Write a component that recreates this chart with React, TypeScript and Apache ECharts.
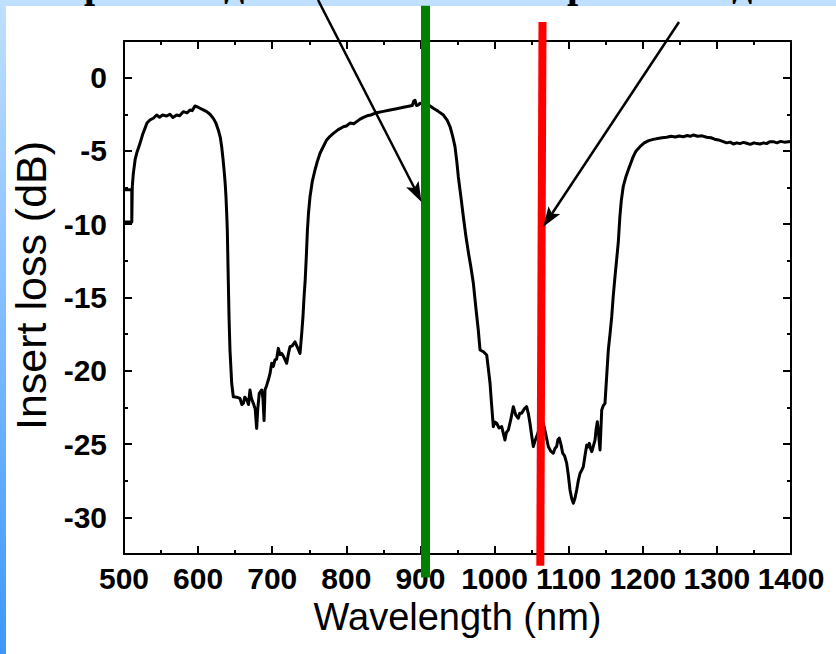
import React, { useEffect, useRef } from "react";
import * as echarts from "echarts";

// ---------- data ----------
const wavelength = [
  501, 510.5, 510.5, 501, 510.5, 511.2, 512.6, 515, 517.1, 521.6, 525, 528.3, 531, 535, 540, 544, 548, 552, 557.6, 562,
  566, 571, 575, 580, 585, 589, 592, 595.8, 599, 602.5, 607, 611.6, 616, 620.5, 624, 627.2, 630, 631.8, 633.5, 635,
  636.5, 637.6, 638.6, 639.4, 640.7, 641.8, 643, 645.3, 647.5, 652, 656.5, 659, 661, 663, 665.6, 668, 670, 672, 674.5, 677,
  679, 680.5, 682.5, 685.8, 687.5, 689, 690.3, 692.5, 694.7, 697, 699.3, 701.5, 703.7, 706, 708.2, 710.5, 712.7, 716, 719.5, 722,
  724, 727, 730.7, 734, 737.5, 739.8, 741.5, 742.9, 744.5, 746, 747.5, 749, 751, 754, 757.7, 761, 764.5, 769, 773.5, 778,
  782.5, 789, 796, 800, 805, 810, 814, 818, 823, 828, 833, 841, 850, 859, 868, 877, 884, 889, 891, 892.7,
  894.5, 897.2, 899.4, 903, 908, 912, 917.4, 924, 931, 936, 940, 943.5, 946.6, 949, 951.1, 954.5, 957.9, 961, 964.6, 968,
  971.4, 975, 978, 980.4, 985, 989.4, 991.5, 993.9, 996, 998.3, 1000.5, 1002.9, 1006, 1009.6, 1012, 1014, 1016, 1018.6, 1022, 1025.3,
  1028.5, 1032, 1034, 1036.6, 1040, 1043.3, 1045.5, 1047.8, 1050, 1052.3, 1054.5, 1056.8, 1060, 1063, 1065.8, 1069, 1072.5, 1076, 1079.3, 1081.5,
  1083.8, 1085.5, 1087.3, 1089.5, 1091.9, 1094.5, 1097.3, 1099.5, 1101.8, 1104, 1106.3, 1108.5, 1110.8, 1113, 1115.4, 1117.5, 1119.8, 1122, 1124.4, 1126,
  1127.9, 1129.5, 1131.2, 1133.5, 1135.6, 1137, 1138.7, 1140.5, 1142.3, 1143.5, 1144.6, 1146.5, 1149, 1151, 1153.5, 1156, 1158.1, 1160, 1162.5, 1164.7,
  1167, 1169.1, 1171, 1173.6, 1177, 1180.4, 1184, 1187.1, 1191, 1196.2, 1202, 1208, 1214.2, 1220, 1226, 1232.2, 1238, 1244, 1249, 1254.7,
  1260, 1264, 1268.3, 1274, 1280, 1286.2, 1292, 1297, 1302, 1308.7, 1313, 1318, 1322.2, 1327, 1331, 1336, 1340.2, 1345, 1350, 1354,
  1358.2, 1363, 1367, 1371, 1376.2, 1381, 1386, 1391, 1396.4, 1400,
];
const insertLoss = [
  -7.65, -7.65, -9.85, -9.85, -9.85, -7.44, -6.53, -5.6, -5.16, -4.48, -3.9, -3.46, -3.1, -2.89, -2.75, -2.55, -2.7, -2.55, -2.62, -2.5,
  -2.72, -2.55, -2.6, -2.32, -2.4, -2.21, -2.25, -1.93, -2.0, -2.09, -2.2, -2.32, -2.5, -2.78, -3.1, -3.57, -4.1, -4.71, -5.5, -6.3,
  -7.2, -8.12, -9.3, -10.4, -13.8, -16.5, -18.58, -20.85, -21.77, -21.8, -21.88, -22.3, -22.22, -21.8, -21.99, -22.3, -21.31, -21.9, -22.22, -22.6,
  -23.93, -22.6, -21.54, -21.31, -21.9, -23.4, -21.3, -21.0, -20.63, -20.2, -19.49, -19.7, -19.26, -19.2, -18.47, -18.9, -18.81, -19.1, -19.49, -18.8,
  -18.36, -18.3, -18.02, -18.4, -18.81, -17.44, -16.3, -15.0, -13.8, -12.2, -10.4, -9.2, -8.12, -7.1, -6.3, -5.7, -5.16, -4.7, -4.25, -4.0,
  -3.8, -3.55, -3.35, -3.3, -3.1, -3.15, -3.0, -2.85, -2.71, -2.6, -2.55, -2.39, -2.3, -2.21, -2.12, -2.02, -1.95, -1.9, -1.6, -1.55,
  -1.9, -1.87, -1.75, -1.8, -1.95, -1.9, -2.09, -2.3, -2.55, -2.9, -3.35, -4.0, -4.71, -5.7, -6.76, -8.1, -9.49, -10.7, -11.9, -12.9,
  -14.03, -15.8, -17.2, -18.58, -18.7, -18.92, -19.8, -20.85, -22.3, -23.81, -23.5, -23.58, -23.9, -23.81, -24.3, -24.72, -24.2, -24.04, -23.3, -22.45,
  -23.0, -23.24, -22.9, -22.9, -22.6, -22.45, -22.9, -23.58, -24.4, -25.17, -24.8, -24.49, -24.0, -23.6, -23.58, -24.3, -25.17, -25.5, -25.62, -25.3,
  -25.17, -24.7, -24.6, -25.0, -25.62, -25.8, -26.3, -27.1, -28.13, -28.7, -29.04, -28.7, -28.13, -27.5, -26.99, -26.8, -26.54, -25.8, -25.06, -25.2,
  -24.95, -25.3, -25.52, -25.1, -24.72, -24.0, -23.47, -24.4, -25.4, -24.0, -22.68, -22.4, -22.22, -20.6, -18.58, -17.4, -16.31, -15.0, -13.58, -12.44,
  -11.2, -9.49, -8.4, -7.44, -6.8, -6.3, -5.8, -5.39, -5.0, -4.71, -4.45, -4.3, -4.21, -4.15, -4.1, -4.07, -4.0, -4.05, -3.98, -4.03,
  -3.95, -4.0, -3.91, -4.0, -3.97, -4.07, -4.1, -4.2, -4.25, -4.37, -4.45, -4.4, -4.53, -4.45, -4.5, -4.42, -4.48, -4.55, -4.45, -4.5,
  -4.53, -4.45, -4.5, -4.38, -4.37, -4.45, -4.35, -4.4, -4.37, -4.35,
];

// marker lines (wavelength, dB) – top and bottom ends
const greenLine = [[906.8, 4.9], [906.8, -34.1]];
const redLine = [[1064.7, 3.8], [1061.7, -33.3]];
// arrows: start -> tip
const arrowStarts = [[761.8, 5.3], [1248.9, 3.8]];
const arrowTips = [[901.4, -8.48], [1065.8, -10.17]];

const xTicks = { min: 500, max: 1400, step: 100 };
const yRange = { min: -32.5, max: 2.5 };
const yLabelRange = { min: -30, max: 0, step: 5 };

// partially visible slide title glyphs
const titleGlyphs = ["р", "д", "р", "д"];
const titleGlyphX = [84, 224, 567, 732];

// ---------- layout ----------
const W = 836;
const H = 654;
const G = { left: 124, right: 45, top: 41, bottom: 100 };
const HEAD = { len: 20, width: 14 };

export default function App() {
  const ref = useRef<HTMLDivElement>(null);

  useEffect(() => {
    if (!ref.current) return;
    const chart = echarts.init(ref.current, undefined, { renderer: "svg" });
    const pxPerDb = (H - G.top - G.bottom) / (yRange.max - yRange.min);
    const G2 = {
      left: G.left,
      right: G.right,
      top: G.top + (yRange.max - yLabelRange.max) * pxPerDb,
      bottom: G.bottom + (yLabelRange.min - yRange.min) * pxPerDb,
    };
    const curve = wavelength.map((w, i) => [w, insertLoss[i]]);
    const arrows = arrowStarts.map((s, i) => [s[0], s[1], arrowTips[i][0], arrowTips[i][1]]);
    const tickStyle = { color: "#000", width: 2 };
    const frameLine = { show: true, onZero: false, lineStyle: { color: "#000", width: 2 } };
    const sans = "Liberation Sans, Arial, sans-serif";
    const plain = (v: number) => String(v);

    const renderArrow = (_params: any, api: any) => {
      const p1 = api.coord([api.value(0), api.value(1)]);
      const p2 = api.coord([api.value(2), api.value(3)]);
      const dx = p2[0] - p1[0];
      const dy = p2[1] - p1[1];
      const len = Math.hypot(dx, dy);
      const ux = dx / len, uy = dy / len;
      const nx = -uy, ny = ux;
      const bx = p2[0] - ux * HEAD.len, by = p2[1] - uy * HEAD.len;
      const notch = [p2[0] - ux * HEAD.len * 0.78, p2[1] - uy * HEAD.len * 0.78];
      return {
        type: "group",
        children: [
          {
            type: "line",
            shape: { x1: p1[0], y1: p1[1], x2: notch[0], y2: notch[1] },
            style: { stroke: "#000", lineWidth: 2.5, fill: null },
          },
          {
            type: "polygon",
            shape: {
              points: [
                [p2[0], p2[1]],
                [bx + nx * HEAD.width / 2, by + ny * HEAD.width / 2],
                notch,
                [bx - nx * HEAD.width / 2, by - ny * HEAD.width / 2],
              ],
            },
            style: { fill: "#000", stroke: null },
          },
        ],
      };
    };

    chart.setOption({
      animation: false,
      backgroundColor: "transparent",
      grid: [
        { ...G, containLabel: false },
        { ...G2, containLabel: false },
      ],
      xAxis: [
        {
          type: "value", gridIndex: 0, position: "bottom",
          min: xTicks.min, max: xTicks.max, interval: xTicks.step,
          axisLine: frameLine,
          axisTick: { show: true, inside: true, length: 8, lineStyle: tickStyle },
          minorTick: { show: true, splitNumber: 2, length: 4, lineStyle: tickStyle },
          splitLine: { show: false },
          axisLabel: { color: "#000", fontSize: 30, fontWeight: "bold", fontFamily: sans, margin: 9, formatter: plain },
          name: "Wavelength (nm)", nameLocation: "middle", nameGap: 42,
          nameTextStyle: { color: "#000", fontSize: 38, fontFamily: sans },
        },
        {
          type: "value", gridIndex: 0, position: "top",
          min: xTicks.min, max: xTicks.max, interval: xTicks.step,
          axisLine: frameLine,
          axisTick: { show: true, inside: true, length: 8, lineStyle: tickStyle },
          minorTick: { show: true, splitNumber: 2, length: 4, lineStyle: tickStyle },
          splitLine: { show: false },
          axisLabel: { show: false },
        },
        {
          type: "value", gridIndex: 1, min: xTicks.min, max: xTicks.max, show: false,
        },
      ],
      yAxis: [
        {
          type: "value", gridIndex: 0, position: "left",
          min: yRange.min, max: yRange.max, interval: 2.5,
          axisLine: frameLine,
          axisTick: { show: true, inside: true, length: 4, lineStyle: tickStyle },
          splitLine: { show: false },
          axisLabel: { show: false },
        },
        {
          type: "value", gridIndex: 0, position: "right",
          min: yRange.min, max: yRange.max, interval: 2.5,
          axisLine: frameLine,
          axisTick: { show: true, inside: true, length: 4, lineStyle: tickStyle },
          splitLine: { show: false },
          axisLabel: { show: false },
        },
        {
          type: "value", gridIndex: 1, position: "left",
          min: yLabelRange.min, max: yLabelRange.max, interval: yLabelRange.step,
          axisLine: { show: false, onZero: false },
          axisTick: { show: true, inside: true, length: 8, lineStyle: tickStyle },
          splitLine: { show: false },
          axisLabel: { color: "#000", fontSize: 30, fontWeight: "bold", fontFamily: sans, margin: 17, formatter: plain },
          name: "Insert loss (dB)", nameLocation: "middle", nameGap: 68, nameRotate: 90,
          nameTextStyle: { color: "#000", fontSize: 43, fontFamily: sans, padding: [0, 0, 0, 24] },
        },
        {
          type: "value", gridIndex: 1, position: "right",
          min: yLabelRange.min, max: yLabelRange.max, interval: yLabelRange.step,
          axisLine: { show: false, onZero: false },
          axisTick: { show: true, inside: true, length: 8, lineStyle: tickStyle },
          splitLine: { show: false },
          axisLabel: { show: false },
        },
      ],
      series: [
        {
          type: "line", xAxisIndex: 0, yAxisIndex: 0, data: curve,
          showSymbol: false, symbol: "none", clip: true, z: 3,
          lineStyle: { color: "#000", width: 3, join: "round" },
        },
        {
          type: "line", xAxisIndex: 0, yAxisIndex: 0, data: greenLine,
          showSymbol: false, symbol: "none", clip: false, z: 4,
          lineStyle: { color: "#008000", width: 9, cap: "butt" },
        },
        {
          type: "line", xAxisIndex: 0, yAxisIndex: 0, data: redLine,
          showSymbol: false, symbol: "none", clip: false, z: 4,
          lineStyle: { color: "#ff0000", width: 8, cap: "butt" },
        },
        {
          type: "custom", xAxisIndex: 0, yAxisIndex: 0, clip: false, silent: true, z: 6,
          encode: { x: [0, 2], y: [1, 3] },
          renderItem: renderArrow,
          data: arrows,
        },
      ],
      graphic: titleGlyphs.map((t, i) => ({
        type: "text", x: titleGlyphX[i], y: -17,
        style: { text: t, fill: "#000", fontSize: 40, fontWeight: "bold", fontFamily: "Liberation Serif, serif", verticalAlign: "middle", align: "left" },
      })),
    });
    return () => chart.dispose();
  }, []);

  return (
    <div style={{ position: "fixed", left: 0, top: 0, width: W, height: H, background: "linear-gradient(#c0e0ff, #3c97ff)", overflow: "hidden" }}>
      <div style={{ position: "absolute", left: 6, top: 6, right: 0, bottom: 0, background: "#fff" }} />
      <div ref={ref} style={{ position: "absolute", left: 0, top: 0, width: W, height: H }} />
    </div>
  );
}
